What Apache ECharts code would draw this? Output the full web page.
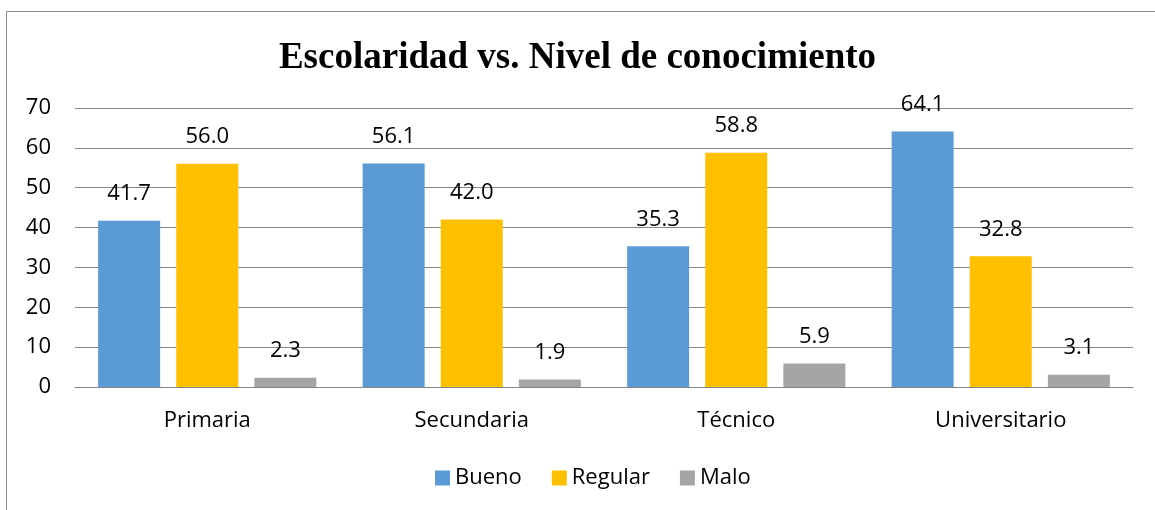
<!DOCTYPE html>
<html>
<head>
<meta charset="utf-8">
<script src="https://cdn.jsdelivr.net/npm/echarts@6/dist/echarts.min.js"></script>
<style>
  html, body { margin: 0; padding: 0; background: #fff; }
  #frame { position: absolute; left: 6px; top: 11px; width: 1200px; height: 600px; border: 1px solid #8c8c8c; box-sizing: border-box; }
  #chart { position: absolute; left: 0; top: 0; width: 1155px; height: 510px; }
</style>
</head>
<body>
<div id="frame"></div>
<div id="chart"></div>
<script>
const categories = ['Primaria', 'Secundaria', 'Técnico', 'Universitario']
const bueno = [41.7, 56.1, 35.3, 64.1]
const regular = [56.0, 42.0, 58.8, 32.8]
const malo = [2.3, 1.9, 5.9, 3.1]
const yTicks = { min: 0, max: 70, interval: 10 }

const labelFont = 'Open Sans'
const barLabel = {
    show: true,
    position: 'top',
    distance: 16,
    color: '#000',
    fontSize: 22,
    fontFamily: labelFont,
    formatter: p => p.value.toFixed(1)
}
const mkSeries = (name, data, color) => ({
    name: name,
    type: 'bar',
    data: data,
    barWidth: 62,
    barGap: '26%',
    itemStyle: { color: color },
    label: barLabel
})

const myChart = echarts.init(document.getElementById('chart'))
myChart.setOption({
    animation: false,
    title: {
        text: 'Escolaridad vs. Nivel de conocimiento',
        left: 'center',
        top: 35,
        textStyle: { fontFamily: 'Liberation Serif', fontWeight: 'bold', fontSize: 37, color: '#000' }
    },
    legend: {
        bottom: 16,
        left: 430,
        itemWidth: 15,
        itemHeight: 15,
        itemGap: 30,
        icon: 'rect',
        textStyle: { fontFamily: labelFont, fontSize: 22, color: '#000' },
        data: ['Bueno', 'Regular', 'Malo']
    },
    grid: { left: 75, right: 22, top: 108, bottom: 123, containLabel: false },
    xAxis: {
        type: 'category',
        data: categories,
        axisTick: { show: false },
        axisLine: { lineStyle: { color: '#868686', width: 1 } },
        axisLabel: { fontFamily: labelFont, fontSize: 22, color: '#000', margin: 23 }
    },
    yAxis: {
        type: 'value',
        min: yTicks.min,
        max: yTicks.max,
        interval: yTicks.interval,
        axisLine: { show: false },
        axisTick: { show: false },
        splitLine: { lineStyle: { color: '#868686', width: 1 } },
        axisLabel: { fontFamily: labelFont, fontSize: 22, color: '#000', margin: 24 }
    },
    series: [
        mkSeries('Bueno', bueno, '#5B9BD5'),
        mkSeries('Regular', regular, '#FFC000'),
        mkSeries('Malo', malo, '#A5A5A5')
    ]
})
</script>
</body>
</html>
